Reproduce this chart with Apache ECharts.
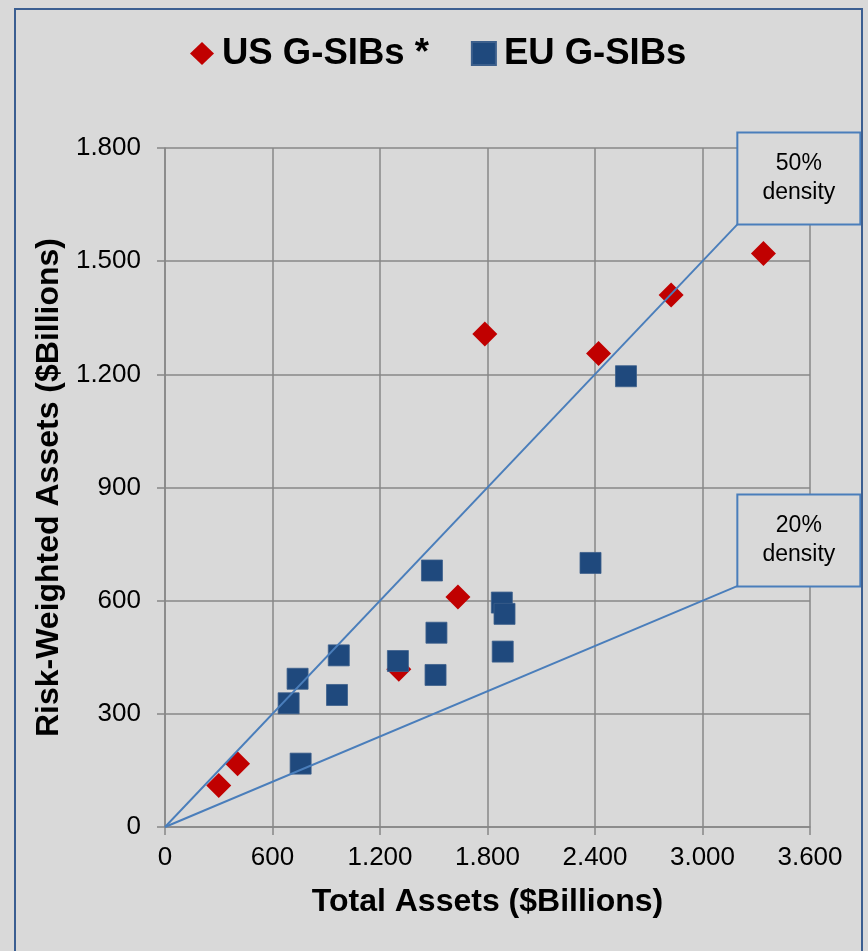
<!DOCTYPE html>
<html>
<head>
<meta charset="utf-8">
<script src="https://cdn.jsdelivr.net/npm/echarts@6/dist/echarts.min.js"></script>
<style>
  html, body { margin: 0; padding: 0; background: #d9d9d9; }
  #chart { width: 868px; height: 951px; }
</style>
</head>
<body>
<div id="chart"></div>
<script>
// Total assets vs risk-weighted assets ($ billions)
const usAssets = [300, 405, 1305, 1635, 1785, 2420, 2825, 3340];
const usRwa    = [110, 168, 418, 610, 1307, 1255, 1410, 1520];

const euAssets = [690, 740, 757, 960, 970, 1300, 1490, 1510, 1515, 1880, 1885, 1895, 2375, 2573];
const euRwa    = [328, 393, 168, 350, 455, 440, 680, 403, 515, 595, 465, 565, 700, 1195];

// Reference density lines (RWA / total assets)
const density50 = [[0, 0], [3200, 1600]];
const density20 = [[0, 0], [3200, 640]];
const density50Label = '50%\ndensity';
const density20Label = '20%\ndensity';

const seriesNames = ['US G-SIBs *', 'EU G-SIBs'];

// Dotted thousands separator, e.g. 1800 -> "1.800"
function fmt(v) {
  return String(v).replace(/\B(?=(\d{3})+(?!\d))/g, '.');
}

function zip(xs, ys) {
  return xs.map((x, i) => [x, ys[i]]);
}

const FONT = '"Liberation Sans", Arial, sans-serif';
const GRID_COLOR = '#878787';
const LINE_BLUE = '#4a7ebb';

function densitySeries(points, text) {
  const last = points[points.length - 1];
  return {
    type: 'line',
    data: [
      points[0],
      {
        value: last,
        label: {
          show: true,
          formatter: text,
          position: [61, 0.5],
          align: 'center',
          verticalAlign: 'bottom',
          width: 121,
          padding: [16, 0],
          lineHeight: 29,
          fontSize: 23,
          fontFamily: FONT,
          color: '#000',
          backgroundColor: '#d9d9d9',
          borderColor: LINE_BLUE,
          borderWidth: 2
        }
      }
    ],
    symbol: 'circle',
    symbolSize: 1,
    showSymbol: true,
    itemStyle: { color: 'rgba(0,0,0,0)' },
    lineStyle: { color: LINE_BLUE, width: 1.9 },
    silent: true,
    z: 5
  };
}

const chart = echarts.init(document.getElementById('chart'), null, { renderer: 'canvas' });

chart.setOption({
  animation: false,
  backgroundColor: '#d9d9d9',
  textStyle: { fontFamily: FONT },
  graphic: [
    {
      type: 'rect',
      shape: { x: 15, y: 9, width: 847, height: 960 },
      style: { fill: 'none', stroke: '#3b5e91', lineWidth: 2 },
      silent: true,
      z: 100
    }
  ],
  legend: {
    data: [
      { name: seriesNames[0], icon: 'diamond' },
      { name: seriesNames[1], icon: 'rect' }
    ],
    left: 185,
    top: 30,
    itemWidth: 24,
    itemHeight: 23,
    itemGap: 42,
    textStyle: {
      fontSize: 36.5,
      fontWeight: 'bold',
      color: '#000',
      fontFamily: FONT,
      padding: [0, 0, 0, 3]
    },
    selectedMode: false
  },
  grid: {
    left: 165,
    right: 58,
    top: 148,
    bottom: 124,
    containLabel: false
  },
  xAxis: {
    type: 'value',
    min: 0,
    max: 3600,
    interval: 600,
    name: 'Total Assets ($Billions)',
    nameLocation: 'middle',
    nameGap: 59,
    nameTextStyle: { fontSize: 32, fontWeight: 'bold', color: '#000', fontFamily: FONT },
    axisLine: { show: true, lineStyle: { color: GRID_COLOR, width: 1.5 } },
    axisTick: { show: true, length: 8, lineStyle: { color: GRID_COLOR, width: 1.5 } },
    axisLabel: { fontSize: 26, color: '#000', margin: 18, formatter: fmt, fontFamily: FONT },
    splitLine: { show: true, lineStyle: { color: GRID_COLOR, width: 1.5 } }
  },
  yAxis: {
    type: 'value',
    min: 0,
    max: 1800,
    interval: 300,
    name: 'Risk-Weighted Assets ($Billions)',
    nameLocation: 'middle',
    nameRotate: 90,
    nameGap: 98,
    nameTextStyle: { fontSize: 32, fontWeight: 'bold', color: '#000', fontFamily: FONT },
    axisLine: { show: true, lineStyle: { color: GRID_COLOR, width: 1.5 } },
    axisTick: { show: true, length: 8, lineStyle: { color: GRID_COLOR, width: 1.5 } },
    axisLabel: { fontSize: 26, color: '#000', margin: 24, formatter: fmt, fontFamily: FONT },
    splitLine: { show: true, lineStyle: { color: GRID_COLOR, width: 1.5 } }
  },
  series: [
    {
      name: seriesNames[0],
      type: 'scatter',
      data: zip(usAssets, usRwa),
      symbol: 'diamond',
      symbolSize: 25,
      itemStyle: { color: '#c00000', opacity: 1 },
      z: 3
    },
    {
      name: seriesNames[1],
      type: 'scatter',
      data: zip(euAssets, euRwa),
      symbol: 'rect',
      symbolSize: 21,
      itemStyle: { color: '#1f497d', borderColor: '#3c5f8c', borderWidth: 0.8, opacity: 1 },
      z: 4
    },
    densitySeries(density50, density50Label),
    densitySeries(density20, density20Label)
  ]
});
</script>
</body>
</html>
